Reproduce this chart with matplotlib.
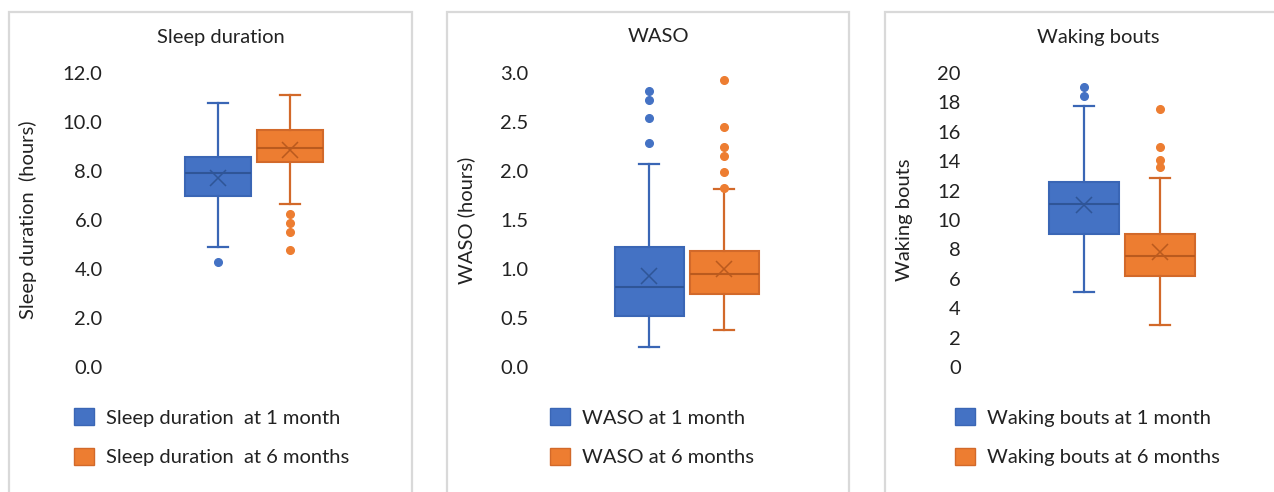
import matplotlib.pyplot as plt
from matplotlib.patches import Patch, Rectangle

plt.rcParams['font.family'] = ['Lato', 'DejaVu Sans']

W, H = 1274, 492

groups = ['at 1 month', 'at 6 months']

# Sleep duration (hours)
sleep_whislo = [4.90, 6.64]
sleep_q1 = [6.98, 8.35]
sleep_med = [7.93, 8.93]
sleep_q3 = [8.57, 9.66]
sleep_whishi = [10.78, 11.12]
sleep_mean = [7.73, 8.86]
sleep_fliers = [[4.30], [6.23, 5.86, 5.50, 4.76]]
sleep_ticks = [0, 2, 4, 6, 8, 10, 12]

# WASO (hours)
waso_whislo = [0.20, 0.38]
waso_q1 = [0.52, 0.74]
waso_med = [0.82, 0.95]
waso_q3 = [1.22, 1.18]
waso_whishi = [2.07, 1.82]
waso_mean = [0.925, 1.00]
waso_fliers = [[2.29, 2.54, 2.72, 2.82], [1.83, 1.99, 2.15, 2.24, 2.45, 2.93]]
waso_ticks = [0, 0.5, 1.0, 1.5, 2.0, 2.5, 3.0]

# Waking bouts (count)
bouts_whislo = [5.1, 2.84]
bouts_q1 = [9.05, 6.17]
bouts_med = [11.07, 7.55]
bouts_q3 = [12.59, 9.05]
bouts_whishi = [17.78, 12.88]
bouts_mean = [11.0, 7.84]
bouts_fliers = [[18.46, 19.07], [13.6, 14.06, 14.97, 17.55]]
bouts_ticks = [0, 2, 4, 6, 8, 10, 12, 14, 16, 18, 20]

fills = ['#4472C4', '#ED7D31']
edges = ['#3A66B5', '#D2692A']
darks = ['#2F5597', '#BA5A1E']

panels = [
    dict(title='Sleep duration', ylabel='Sleep duration  (hours)', name='Sleep duration ',
         stats=(sleep_whislo, sleep_q1, sleep_med, sleep_q3, sleep_whishi, sleep_mean, sleep_fliers),
         ticks=sleep_ticks, fmt='{:.1f}',
         frame=(9, 412), ax_px=(111, 400), c0=218, step=72, title_x=221, ylab_x=37,
         leg_x=76),
    dict(title='WASO', ylabel='WASO (hours)', name='WASO',
         stats=(waso_whislo, waso_q1, waso_med, waso_q3, waso_whishi, waso_mean, waso_fliers),
         ticks=waso_ticks, fmt='{:.1f}',
         frame=(447, 849), ax_px=(537, 840), c0=649, step=75, title_x=659, ylab_x=475,
         leg_x=552),
    dict(title='Waking bouts', ylabel='Waking bouts', name='Waking bouts',
         stats=(bouts_whislo, bouts_q1, bouts_med, bouts_q3, bouts_whishi, bouts_mean, bouts_fliers),
         ticks=bouts_ticks, fmt='{:.0f}',
         frame=(885, 1290), ax_px=(969, 1265), c0=1084, step=76, title_x=1098, ylab_x=913,
         leg_x=957),
]

fig = plt.figure(figsize=(W / 100, H / 100), dpi=100)

y_top, y_bot = 73, 367

for p in panels:
    x0, x1 = p['frame']
    fig.patches.append(Rectangle((x0 / W, -0.05), (x1 - x0) / W, (H - 12) / H + 0.05,
                                 transform=fig.transFigure, fill=False,
                                 edgecolor='#d9d9d9', linewidth=1.6))

    a0, a1 = p['ax_px']
    ax = fig.add_axes([a0 / W, (H - y_bot) / H, (a1 - a0) / W, (y_bot - y_top) / H])
    ax.set_xlim((a0 - p['c0']) / p['step'], (a1 - p['c0']) / p['step'])
    ax.set_ylim(p['ticks'][0], p['ticks'][-1])

    whislo, q1, med, q3, whishi, mean, fliers = p['stats']
    for i in range(2):
        st = [dict(whislo=whislo[i], q1=q1[i], med=med[i], q3=q3[i], whishi=whishi[i],
                   mean=mean[i], fliers=fliers[i])]
        ax.bxp(st, positions=[i], widths=0.92, capwidths=0.27, patch_artist=True,
               showmeans=True, manage_ticks=False,
               boxprops=dict(facecolor=fills[i], edgecolor=edges[i], linewidth=1.5),
               medianprops=dict(color=darks[i], linewidth=1.5),
               whiskerprops=dict(color=edges[i], linewidth=1.6),
               capprops=dict(color=edges[i], linewidth=1.6),
               meanprops=dict(marker='x', markeredgecolor=darks[i], markersize=11,
                              markeredgewidth=1.1),
               flierprops=dict(marker='o', markerfacecolor=fills[i], markeredgecolor=fills[i],
                               markersize=5.5))

    ax.set_yticks(p['ticks'])
    ax.set_yticklabels([p['fmt'].format(t) for t in p['ticks']])
    ax.set_xticks([])
    ax.tick_params(axis='y', length=0, pad=6, labelsize=14.5, labelcolor='#222222')
    for s in ax.spines.values():
        s.set_visible(False)
    ax.patch.set_alpha(0)

    ax.set_ylabel(p['ylabel'], fontsize=14.5, color='#222222')
    ax.yaxis.set_label_coords((p['ylab_x'] - a0) / (a1 - a0), 0.5)

    fig.text(p['title_x'] / W, 1 - 37 / H, p['title'], ha='center', va='center',
             fontsize=14.5, color='#222222')

    handles = [Patch(facecolor=fills[i], edgecolor=edges[i], linewidth=1.0) for i in range(2)]
    labels = [p['name'] + ' ' + g for g in groups]
    fig.legend(handles, labels, loc='upper left',
               bbox_to_anchor=(p['leg_x'] / W - 0.006, 1 - 402 / H),
               frameon=False, fontsize=14.5, handlelength=0.95, handleheight=0.95,
               handletextpad=0.6, labelspacing=1.05, borderaxespad=0, borderpad=0.3,
               labelcolor='#222222')

fig.savefig('out.png', dpi=100)
